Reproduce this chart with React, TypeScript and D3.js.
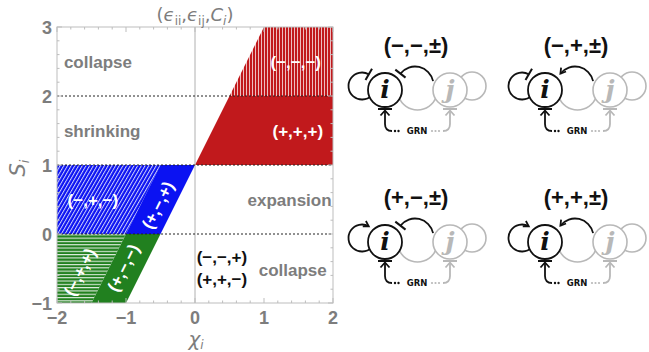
import React from 'react';
import * as d3 from 'd3';

// axes
const xDomain = [-2, 2];
const yDomain = [-1, 3];
const xTicks = [-2, -1, 0, 1, 2];
const yTicks = [-1, 0, 1, 2, 3];
const thresholds = [0, 1, 2];

// regions of the (chi_i, S_i) plane, vertices in data units
const regionIds = ['redTop', 'redBottom', 'blueHatch', 'blueSolid', 'greenHatch', 'greenSolid'];
const regionVerts: [number, number][][] = [
  [[1, 3], [2, 3], [2, 2], [0.5, 2]],
  [[0.5, 2], [2, 2], [2, 1], [0, 1]],
  [[-2, 1], [-0.5, 1], [-1, 0], [-2, 0]],
  [[-0.5, 1], [0, 1], [-0.5, 0], [-1, 0]],
  [[-2, 0], [-1, 0], [-1.5, -1], [-2, -1]],
  [[-1, 0], [-0.5, 0], [-1, -1], [-1.5, -1]],
];

// sign labels inside the regions
const signLabels = ['(−,−,−)', '(+,+,+)', '(−,+,−)', '(+,−,+)', '(−,+,+)', '(+,−,−)', '(−,−,+)', '(+,+,−)'];
const signX = [1.46, 1.49, -1.48, -0.54, -1.67, -1.04, 0.39, 0.39];
const signY = [2.49, 1.49, 0.49, 0.42, -0.55, -0.49, -0.33, -0.65];
const signTilted = [false, false, false, true, true, true, false, false];
const signWhite = [true, true, true, true, true, true, false, false];

// regime names
const regimeLabels = ['collapse', 'shrinking', 'expansion', 'collapse'];
const regimeX = [-1.9, -1.9, 1.98, 1.91];
const regimeY = [2.49, 1.49, 0.49, -0.52];
const regimeAnchor = ['start', 'start', 'end', 'end'];

// network motifs
const motifLabels = ['(−,−,±)', '(−,+,±)', '(+,−,±)', '(+,+,±)'];
const selfSigns = ['−', '−', '+', '+'];
const crossSigns = ['−', '+', '−', '+'];

const RED = '#c1191c';
const BLUE = '#0b12f2';
const GREEN = '#21801f';
const GREY = '#7d7d7d';
const INK = '#111';
const LIGHT = '#b8b8b8';

type P = [number, number];
const pt = (c: P, r: number, deg: number): P => {
  const a = (deg * Math.PI) / 180;
  return [c[0] + r * Math.cos(a), c[1] + r * Math.sin(a)];
};

function EndMark({ p, dir, sign, color }: { p: P; dir: P; sign: string; color: string }) {
  if (sign === '−') {
    const n: P = [-dir[1], dir[0]];
    return (
      <line x1={p[0] - 6.5 * n[0]} y1={p[1] - 6.5 * n[1]} x2={p[0] + 6.5 * n[0]} y2={p[1] + 6.5 * n[1]}
        stroke={color} strokeWidth={2} />
    );
  }
  const b: P = [-dir[0], -dir[1]];
  const rot = (v: P, a: number): P => [v[0] * Math.cos(a) - v[1] * Math.sin(a), v[0] * Math.sin(a) + v[1] * Math.cos(a)];
  const a1 = rot(b, 0.55);
  const a2 = rot(b, -0.55);
  return (
    <path d={`M${p[0] + 6 * a1[0]},${p[1] + 6 * a1[1]}L${p[0]},${p[1]}L${p[0] + 6 * a2[0]},${p[1] + 6 * a2[1]}`}
      fill="none" stroke={color} strokeWidth={1.8} strokeLinejoin="miter" />
  );
}

function Motif({ x, y, label, self, cross }: { x: number; y: number; label: string; self: string; cross: string }) {
  const jx = 65;
  // self loop of i
  const lc: P = [-23, -4];
  const lr = 13.5;
  const ls = pt(lc, lr, 45);
  const le = pt(lc, lr, 300);
  const leA = (300 * Math.PI) / 180;
  const lDir: P = [-Math.sin(leA), Math.cos(leA)];
  // j -> i arc
  const cc: P = [30, -5];
  const cr = 18.5;
  const cs = pt(cc, cr, -12);
  const ce = pt(cc, cr, -142);
  const ceA = (-142 * Math.PI) / 180;
  const cDir: P = [Math.sin(ceA), -Math.cos(ceA)];
  // i -> j arc (grey)
  const gc: P = [32.5, 0];
  const gs = pt(gc, 20, 160);
  const ge = pt(gc, 20, 20);
  const inputMark = (cx: number, color: string) => (
    <g stroke={color} fill="none" strokeWidth={1.8}>
      <line x1={cx - 7} y1={19} x2={cx + 7} y2={19} strokeWidth={2} />
      <path d={`M${cx - 4.5},${25.5}L${cx},${20.5}L${cx + 4.5},${25.5}`} />
    </g>
  );
  return (
    <g transform={`translate(${x},${y})`}>
      <text x={31} y={-37} textAnchor="middle" fontSize={22} fontWeight="bold" fill={INK}
        fontFamily="'Liberation Sans', Arial, sans-serif">{label}</text>
      {/* grey partner */}
      <circle cx={jx + 22} cy={-4} r={14} fill="none" stroke={LIGHT} strokeWidth={1.6} />
      <path d={`M${gs[0]},${gs[1]}A20 20 0 0 0 ${ge[0]},${ge[1]}`} fill="none" stroke={LIGHT} strokeWidth={1.6} />
      <circle cx={jx} cy={0} r={17} fill="#fff" stroke={LIGHT} strokeWidth={1.6} />
      <text x={jx} y={8} textAnchor="middle" fontSize={25} fontWeight="bold" fontStyle="italic" fill={LIGHT}
        fontFamily="'DejaVu Serif', serif">j</text>
      {/* focal gene */}
      <path d={`M${ls[0]},${ls[1]}A${lr} ${lr} 0 1 1 ${le[0]},${le[1]}`} fill="none" stroke={INK} strokeWidth={1.8} />
      <path d={`M${cs[0]},${cs[1]}A${cr} ${cr} 0 0 0 ${ce[0]},${ce[1]}`} fill="none" stroke={INK} strokeWidth={1.8} />
      <circle cx={0} cy={0} r={17} fill="#fff" stroke={INK} strokeWidth={1.8} />
      <text x={0} y={8} textAnchor="middle" fontSize={25} fontWeight="bold" fontStyle="italic" fill={INK}
        fontFamily="'DejaVu Serif', serif">i</text>
      <EndMark p={le} dir={lDir} sign={self} color={INK} />
      <EndMark p={ce} dir={cDir} sign={cross} color={INK} />
      {/* GRN inputs */}
      {inputMark(0, INK)}
      <path d="M0,21L0,34Q0,41 7,41" fill="none" stroke={INK} strokeWidth={1.8} />
      <circle cx={10} cy={41} r={1.2} fill={INK} />
      <circle cx={13.5} cy={41} r={1.2} fill={INK} />
      <text x={32} y={44} textAnchor="middle" fontSize={8.5} fontWeight="bold" fill={INK}
        fontFamily="'DejaVu Sans', sans-serif">GRN</text>
      {inputMark(jx, LIGHT)}
      <path d={`M${jx},21L${jx},34Q${jx},41 ${jx - 7},41`} fill="none" stroke={LIGHT} strokeWidth={1.8} />
      {[47, 50.5, 54].map((d) => <circle key={d} cx={d} cy={41} r={1.1} fill={LIGHT} />)}
    </g>
  );
}

export default function App() {
  const x = d3.scaleLinear().domain(xDomain).range([57, 333]);
  const y = d3.scaleLinear().domain(yDomain).range([303, 27]);
  const line = d3.line<[number, number]>().x((d) => x(d[0])).y((d) => y(d[1]));
  const fills = ['url(#vstripe)', RED, 'url(#dstripe)', BLUE, 'url(#hstripe)', GREEN];
  const tilt = (Math.atan2(y(1) - y(0), x(0) - x(-0.5)) * 180) / Math.PI;

  const minorX = d3.range(xDomain[0], xDomain[1] + 1e-6, 0.2).filter((v) => Math.abs(v - Math.round(v)) > 1e-6);
  const minorY = d3.range(yDomain[0], yDomain[1] + 1e-6, 0.2).filter((v) => Math.abs(v - Math.round(v)) > 1e-6);
  const [x0, x1] = x.range();
  const [y0, y1] = y.range();

  const sans = "'Liberation Sans', Arial, sans-serif";

  return (
    <svg width={649} height={352} style={{ position: 'absolute', left: 0, top: 0, background: '#fff' }}>
      <defs>
        <pattern id="vstripe" width={3} height={4} patternUnits="userSpaceOnUse">
          <rect width={3} height={4} fill={RED} />
          <rect width={0.9} height={4} fill="#fff" opacity={0.8} />
        </pattern>
        <pattern id="hstripe" width={4} height={3.3} patternUnits="userSpaceOnUse">
          <rect width={4} height={3.3} fill={GREEN} />
          <rect width={4} height={1.1} fill="#fff" opacity={0.85} />
        </pattern>
        <pattern id="dstripe" width={3.2} height={4} patternUnits="userSpaceOnUse" patternTransform="rotate(30)">
          <rect width={3.2} height={4} fill={BLUE} />
          <rect width={1} height={4} fill="#fff" opacity={0.8} />
        </pattern>
      </defs>

      {regionVerts.map((v, i) => (
        <path key={regionIds[i]} d={line([...v, v[0]]) ?? ''} fill={fills[i]} />
      ))}

      <line x1={x(0)} x2={x(0)} y1={y0} y2={y1} stroke="#b0b0b0" strokeWidth={1} />
      {thresholds.map((t) => (
        <line key={t} x1={x0} x2={x1} y1={y(t)} y2={y(t)} stroke="#222" strokeWidth={1} strokeDasharray="2,2" />
      ))}

      {/* frame and ticks */}
      <rect x={x0} y={y1} width={x1 - x0} height={y0 - y1} fill="none" stroke="#bdbdbd" strokeWidth={1} />
      <g stroke="#bdbdbd" strokeWidth={1}>
        {xTicks.map((t) => (
          <g key={'xt' + t}>
            <line x1={x(t)} x2={x(t)} y1={y0} y2={y0 - 5} />
            <line x1={x(t)} x2={x(t)} y1={y1} y2={y1 + 5} />
          </g>
        ))}
        {minorX.map((t) => (
          <g key={'xm' + t}>
            <line x1={x(t)} x2={x(t)} y1={y0} y2={y0 - 2.5} />
            <line x1={x(t)} x2={x(t)} y1={y1} y2={y1 + 2.5} />
          </g>
        ))}
        {yTicks.map((t) => (
          <g key={'yt' + t}>
            <line x1={x0} x2={x0 + 5} y1={y(t)} y2={y(t)} />
            <line x1={x1} x2={x1 - 5} y1={y(t)} y2={y(t)} />
          </g>
        ))}
        {minorY.map((t) => (
          <g key={'ym' + t}>
            <line x1={x0} x2={x0 + 2.5} y1={y(t)} y2={y(t)} />
            <line x1={x1} x2={x1 - 2.5} y1={y(t)} y2={y(t)} />
          </g>
        ))}
      </g>

      <g fontFamily={sans} fontWeight="bold" fontSize={18} fill={GREY}>
        {xTicks.map((t) => (
          <text key={t} x={x(t)} y={324} textAnchor="middle">{t < 0 ? '−' + Math.abs(t) : t}</text>
        ))}
        {yTicks.map((t) => (
          <text key={t} x={52} y={y(t) + 6.5} textAnchor="end">{t < 0 ? '−' + Math.abs(t) : t}</text>
        ))}
      </g>

      {/* axis titles */}
      <text x={195} y={21} textAnchor="middle" fontFamily="'DejaVu Sans', sans-serif" fontSize={18} fill={GREY}>
        (<tspan fontStyle="italic">ϵ</tspan><tspan fontSize={12} dy={4}>ii</tspan>
        <tspan dy={-4}>,</tspan><tspan fontStyle="italic">ϵ</tspan><tspan fontSize={12} dy={4}>ij</tspan>
        <tspan dy={-4}>,</tspan><tspan fontStyle="italic">C</tspan><tspan fontSize={12} dy={4} fontStyle="italic">i</tspan>
        <tspan dy={-4}>)</tspan>
      </text>
      <text x={196} y={346} textAnchor="middle" fontFamily="'DejaVu Sans', sans-serif" fontSize={18} fill={GREY}>
        <tspan fontStyle="italic" fontSize={20}>χ</tspan><tspan fontSize={12} dy={3} fontStyle="italic">i</tspan>
      </text>
      <text transform="translate(25,168) rotate(-90)" textAnchor="middle" fontFamily="'DejaVu Sans', sans-serif"
        fontSize={21} fill={GREY}>
        <tspan fontStyle="italic">S</tspan><tspan fontSize={13} dy={4} fontStyle="italic">i</tspan>
      </text>

      {/* regime names */}
      <g fontFamily={sans} fontWeight="bold" fontSize={17} fill={GREY}>
        {regimeLabels.map((l, i) => (
          <text key={i} x={x(regimeX[i])} y={y(regimeY[i]) + 6} textAnchor={regimeAnchor[i]}>{l}</text>
        ))}
      </g>

      {/* sign labels */}
      <g fontFamily={sans} fontWeight="bold" fontSize={17}>
        {signLabels.map((l, i) => (
          <text key={i} textAnchor="middle" fill={signWhite[i] ? '#fff' : INK}
            transform={`translate(${x(signX[i])},${y(signY[i])}) rotate(${signTilted[i] ? tilt : 0})`} y={6}>
            {l}
          </text>
        ))}
      </g>

      {motifLabels.map((l, i) => (
        <Motif key={l} x={385 + (i % 2) * 160} y={90 + Math.floor(i / 2) * 152} label={l}
          self={selfSigns[i]} cross={crossSigns[i]} />
      ))}
    </svg>
  );
}
